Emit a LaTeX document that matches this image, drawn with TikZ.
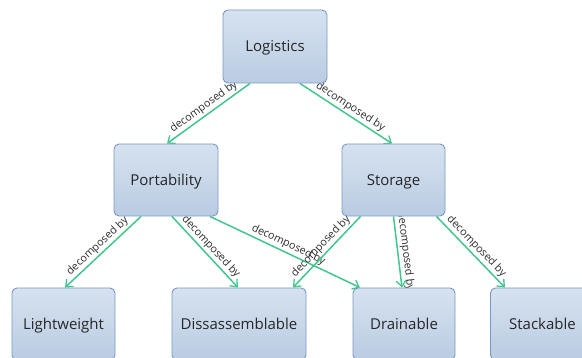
\documentclass[tikz,border=0pt]{standalone}
\usepackage{fontspec}
\setmainfont{Open Sans}
\usetikzlibrary{arrows.meta}
\pgfdeclarelayer{background}
\pgfsetlayers{background,main}
\definecolor{boxline}{RGB}{122,152,196}
\definecolor{boxtop}{RGB}{214,226,240}
\definecolor{boxmid}{RGB}{238,242,248}
\definecolor{boxbot}{RGB}{186,204,226}
\definecolor{linkgreen}{RGB}{66,198,142}
\definecolor{labelgray}{RGB}{45,45,45}
\tikzset{
  concept/.style={draw=boxline, line width=0.9pt, rounded corners=5pt,
    top color=boxtop, middle color=boxmid, bottom color=boxbot,
    minimum height=72pt, inner sep=0pt, text=black!85,
    text height=11pt, text depth=0pt,
    font=\fontsize{15}{18}\selectfont},
  link/.style={draw=linkgreen, line width=1.5pt,
    -{Straight Barb[length=6pt,width=10pt,line width=1.3pt]}},
  linklabel/.style={sloped, above, midway, inner sep=1.8pt, text=labelgray,
    font=\fontsize{10.8}{13}\selectfont}
}
\begin{document}
\begin{tikzpicture}[x=1pt,y=-1pt]
\useasboundingbox (0,0) rectangle (582,358);
% concepts
\node[concept, minimum width=104pt, minimum height=73pt] (log) at (275,46.5) {Logistics};
\node[concept, minimum width=104pt] (port) at (166,180) {Portability};
\node[concept, minimum width=103pt] (stor) at (393.5,180) {Storage};
\node[concept, minimum width=103pt] (light) at (63.5,324) {Lightweight};
\node[concept, minimum width=134pt] (diss) at (239,324) {Dissassemblable};
\node[concept, minimum width=102pt] (drain) at (404,324) {Drainable};
\node[concept, minimum width=104pt] (stack) at (542.5,324) {Stackable};
% decomposition links, behind the boxes
\begin{pgfonlayer}{background}
\draw[link] ([xshift=-25pt]log.south) -- node[linklabel]{decomposed by} ([xshift=1pt]port.north);
\draw[link] ([xshift=25pt]log.south) -- node[linklabel]{decomposed by} ([xshift=-1.5pt]stor.north);
\draw[link] ([xshift=-25pt]port.south) -- node[linklabel]{decomposed by} ([xshift=1.5pt]light.north);
\draw[link] ([xshift=6pt]port.south) -- node[linklabel]{decomposed by} ([xshift=-1pt]diss.north);
\draw[link] ([xshift=44pt]port.south) -- node[linklabel]{decomposed by} ([xshift=-44pt]drain.north);
\draw[link] ([xshift=-33pt]stor.south) -- node[linklabel]{decomposed by} ([xshift=54pt]diss.north);
\draw[link] (stor.south) -- node[linklabel]{decomposed by} ([xshift=-2pt]drain.north);
\draw[link] ([xshift=43pt]stor.south) -- node[linklabel]{decomposed by} ([xshift=-37.5pt]stack.north);
\end{pgfonlayer}
\end{tikzpicture}
\end{document}
